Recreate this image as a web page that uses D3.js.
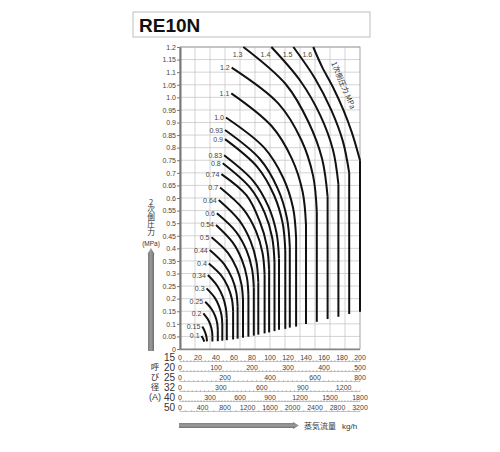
<!DOCTYPE html>
<html>
<head>
<meta charset="utf-8">
<script src="https://cdn.jsdelivr.net/npm/d3@7"></script>
<style>
  body { margin: 0; background: #fff; }
  svg { display: block; font-family: "Liberation Sans", Arial, sans-serif; }
  .grid line { stroke: #c2c2c2; stroke-width: 0.7; }
  .y-axis text { font-size: 7px; fill: #444; }
  .y-axis line { stroke: #777; }
  .ruler text { font-size: 7px; fill: #444; }
  .curve { fill: none; stroke: #111; stroke-width: 2; }
  .curve-label { font-size: 7px; fill: #444; text-anchor: end; }
  .jp { font-family: "Noto Sans CJK JP", sans-serif; }
</style>
</head>
<body>
<svg id="chart" width="500" height="452"></svg>
<script>
// secondary pressure axis (MPa)
const pressureTicks = [0, 0.05, 0.1, 0.15, 0.2, 0.25, 0.3, 0.35, 0.4, 0.45, 0.5, 0.55, 0.6,
  0.65, 0.7, 0.75, 0.8, 0.85, 0.9, 0.95, 1.0, 1.05, 1.1, 1.15, 1.2];
const pressureLabels = ["0", "0.05", "0.1", "0.15", "0.2", "0.25", "0.3", "0.35", "0.4", "0.45",
  "0.5", "0.55", "0.6", "0.65", "0.7", "0.75", "0.8", "0.85", "0.9", "0.95", "1.0", "1.05",
  "1.1", "1.15", "1.2"];

// nominal sizes and their flow scales (kg/h)
const sizeNames = ["15", "20", "25", "32", "40", "50"];
const sizeMax = [200, 500, 800, 1320, 1800, 3200];
const sizeTicks = [
  [0, 20, 40, 60, 80, 100, 120, 140, 160, 180, 200],
  [0, 100, 200, 300, 400, 500],
  [0, 200, 400, 600, 800],
  [0, 300, 600, 900, 1200],
  [0, 300, 600, 900, 1200, 1500, 1800],
  [0, 400, 800, 1200, 1600, 2000, 2400, 2800, 3200]
];
const sizeMinor = [4, 10, 20, 30, 30, 100];

// primary pressure curves: [flow (size 15 scale), secondary pressure]
const curveLabels = ["0.1", "0.15", "0.2", "0.25", "0.3", "0.34", "0.4", "0.44", "0.5", "0.54",
  "0.6", "0.64", "0.7", "0.74", "0.8", "0.83", "0.9", "0.93", "1.0", "1.1", "1.2", "1.3", "1.4", "1.5", "1.6"];
const curveArcs = [
  [[24, 0.052], [25.5, 0.042], [27, 0.029]],
  [[24.8, 0.089], [27.5, 0.07], [29.3, 0.05], [30, 0.03]],
  [[26, 0.142], [30.8, 0.119], [33.8, 0.096], [35.5, 0.073], [36, 0.05]],
  [[28, 0.188], [34.8, 0.16], [39, 0.1315], [41.3, 0.103], [42, 0.075]],
  [[29.5, 0.241], [38.2, 0.206], [43.3, 0.1705], [46.1, 0.135], [47, 0.10]],
  [[31, 0.294], [41.5, 0.2505], [47.6, 0.207], [50.9, 0.1635], [52, 0.12]],
  [[32, 0.34], [45.8, 0.2925], [53.5, 0.245], [57.7, 0.1975], [59, 0.15]],
  [[33, 0.393], [49, 0.337], [57.8, 0.2815], [62.5, 0.226], [64, 0.17]],
  [[35, 0.444], [53.2, 0.382], [63.1, 0.3195], [68.3, 0.257], [70, 0.195]],
  [[40, 0.493], [58.5, 0.4235], [68.8, 0.354], [74.3, 0.2845], [76, 0.215]],
  [[41, 0.539], [62.3, 0.4655], [73.9, 0.392], [80, 0.3185], [82, 0.245]],
  [[43, 0.592], [66, 0.51], [78.4, 0.4285], [84.9, 0.347], [87, 0.265]],
  [[44.5, 0.642], [70.6, 0.555], [84.4, 0.4685], [91.7, 0.382], [94, 0.295]],
  [[46, 0.695], [74, 0.61], [88.8, 0.505], [96.5, 0.41], [99, 0.315]],
  [[47.5, 0.738], [78.1, 0.64], [94, 0.5415], [102.4, 0.443], [105, 0.345]],
  [[49, 0.77], [81.5, 0.6675], [98.4, 0.565], [107.2, 0.4625], [110, 0.36]],
  [[50, 0.834], [86, 0.723], [104.4, 0.612], [114, 0.501], [117, 0.39]],
  [[50, 0.87], [89, 0.754], [108.6, 0.6375], [118.8, 0.521], [122, 0.405]],
  [[51, 0.92], [93.5, 0.80], [114.6, 0.6805], [125.6, 0.561], [129, 0.441]],
  [[57, 1.016], [102, 0.885], [124.5, 0.7545], [136.3, 0.624], [140, 0.493]],
  [[57.4, 1.118], [109.4, 0.975], [134.7, 0.8315], [147.9, 0.688], [152, 0.545]],
  [[70.4, 1.2], [118, 1.05], [143, 0.9], [158, 0.754], [164, 0.605]],
  [[101.5, 1.2], [134, 1.064], [156, 0.9275], [170, 0.791], [176, 0.655]],
  [[126, 1.2], [150, 1.075], [168, 0.95], [181, 0.825], [188, 0.70]],
  [[148, 1.2], [158, 1.12], [170, 1.04], [181.5, 0.95], [191, 0.86], [200, 0.75]]
];
// lower end of each vertical (choked) line
const curveBottoms = [0.029, 0.03, 0.03, 0.031, 0.033, 0.035, 0.038, 0.041, 0.045, 0.049,
  0.053, 0.057, 0.062, 0.066, 0.071, 0.076, 0.08, 0.085, 0.089, 0.099, 0.108, 0.119, 0.128, 0.139, 0.148];

const svg = d3.select("#chart");
const plot = { left: 180, right: 360, top: 47, bottom: 349 };

/* ---------- title box ---------- */
svg.append("rect").attr("x", 133).attr("y", 12).attr("width", 237).attr("height", 25)
  .attr("fill", "#fff").attr("stroke", "#c8c8c8").attr("stroke-width", 1.2);
svg.append("text").attr("x", 139).attr("y", 32)
  .style("font-family", "'Liberation Sans', Arial, sans-serif")
  .style("font-weight", "bold").style("font-size", "19px").style("fill", "#111")
  .text("RE10N");

/* ---------- scales ---------- */
const x = d3.scaleLinear().domain([0, 200]).range([plot.left, plot.right]);
const y = d3.scaleLinear().domain([0, 1.2]).range([plot.bottom, plot.top]);

/* ---------- grid ---------- */
const grid = svg.append("g").attr("class", "grid");
grid.selectAll(".v").data(d3.range(1, 12)).join("line")
  .attr("x1", i => plot.left + i * (plot.right - plot.left) / 12)
  .attr("x2", i => plot.left + i * (plot.right - plot.left) / 12)
  .attr("y1", plot.top).attr("y2", plot.bottom);
grid.selectAll(".h").data(pressureTicks.slice(1)).join("line")
  .attr("x1", plot.left).attr("x2", plot.right)
  .attr("y1", d => y(d)).attr("y2", d => y(d));

svg.append("rect").attr("x", plot.left).attr("y", plot.top)
  .attr("width", plot.right - plot.left).attr("height", plot.bottom - plot.top)
  .attr("fill", "none").attr("stroke", "#999").attr("stroke-width", 0.9);

/* ---------- left axis ---------- */
const yAxis = d3.axisLeft(y).tickValues(pressureTicks)
  .tickFormat((d, i) => pressureLabels[i]).tickSize(3).tickPadding(1).tickSizeOuter(0);
const yg = svg.append("g").attr("class", "y-axis")
  .attr("transform", `translate(${plot.left},0)`).call(yAxis);
yg.select(".domain").attr("stroke", "#777").attr("stroke-width", 2);
svg.append("line").attr("x1", plot.left - 1).attr("x2", plot.right)
  .attr("y1", plot.bottom + 0.5).attr("y2", plot.bottom + 0.5)
  .attr("stroke", "#888").attr("stroke-width", 1.5);

/* ---------- curves ---------- */
const arcLine = d3.line().x(d => x(d[0])).y(d => y(d[1])).curve(d3.curveCatmullRom.alpha(0.5));
const curves = svg.append("g");
curveArcs.forEach((pts, i) => {
  const end = pts[pts.length - 1];
  curves.append("path").attr("class", "curve").attr("d", arcLine(pts));
  if (curveBottoms[i] < end[1]) {
    curves.append("line").attr("class", "curve")
      .attr("x1", x(end[0])).attr("x2", x(end[0]))
      .attr("y1", y(end[1])).attr("y2", y(curveBottoms[i]));
  }
  const start = pts[0];
  const atTop = start[1] >= 1.2;
  curves.append("text").attr("class", "curve-label")
    .attr("x", x(start[0]) - (atTop ? 1 : 2))
    .attr("y", atTop ? plot.top + 10 : y(start[1]) + 2.5)
    .text(curveLabels[i]);
});

svg.append("text").attr("class", "jp")
  .attr("transform", "translate(331,63) rotate(67)")
  .style("font-size", "7.5px").style("fill", "#333")
  .text("1次側圧力 MPa");

/* ---------- size rulers ---------- */
sizeNames.forEach((name, i) => {
  const rowY = 357 + i * 10;
  const sx = d3.scaleLinear().domain([0, sizeMax[i]]).range([plot.left, plot.right]);
  const g = svg.append("g").attr("class", "ruler");
  const lineY = rowY + 4.5;
  g.append("line").attr("x1", plot.left).attr("x2", plot.right)
    .attr("y1", lineY).attr("y2", lineY).attr("stroke", "#999").attr("stroke-width", 0.6);
  g.selectAll(".minor").data(d3.range(0, sizeMax[i] + 0.001, sizeMinor[i])).join("line")
    .attr("x1", d => sx(d)).attr("x2", d => sx(d))
    .attr("y1", lineY - 1.5).attr("y2", lineY).attr("stroke", "#999").attr("stroke-width", 0.6);
  g.selectAll(".lbl").data(sizeTicks[i]).join("text")
    .attr("x", d => sx(d)).attr("y", rowY + 2.5)
    .attr("text-anchor", "middle")
    .text(d => d);
  svg.append("text").attr("x", 175).attr("y", rowY + 3.5).attr("text-anchor", "end")
    .style("font-size", "10px").style("fill", "#333").text(name);
});

// 呼び径(A), written top to bottom
svg.append("text").attr("class", "jp").attr("x", 155).attr("y", 362.5)
  .style("writing-mode", "vertical-rl").style("text-orientation", "upright")
  .style("letter-spacing", "1.5px")
  .style("font-size", "8.5px").style("fill", "#333").text("呼び径");
svg.append("text").attr("x", 155).attr("y", 400).attr("text-anchor", "middle")
  .style("font-size", "9px").style("fill", "#333").text("(A)");

/* ---------- axis titles with arrows ---------- */
const defs = svg.append("defs");
const gv = defs.append("linearGradient").attr("id", "gv").attr("x1", 0).attr("x2", 1).attr("y1", 0).attr("y2", 0);
gv.append("stop").attr("offset", "0%").attr("stop-color", "#777");
gv.append("stop").attr("offset", "50%").attr("stop-color", "#9a9a9a");
gv.append("stop").attr("offset", "100%").attr("stop-color", "#666");
const gh = defs.append("linearGradient").attr("id", "gh").attr("x1", 0).attr("x2", 0).attr("y1", 0).attr("y2", 1);
gh.append("stop").attr("offset", "0%").attr("stop-color", "#777");
gh.append("stop").attr("offset", "50%").attr("stop-color", "#9a9a9a");
gh.append("stop").attr("offset", "100%").attr("stop-color", "#666");

// 2次側圧力, written top to bottom
svg.append("text").attr("class", "jp").attr("x", 151).attr("y", 198)
  .style("writing-mode", "vertical-rl").style("text-orientation", "upright")
  .style("font-size", "7.6px").style("fill", "#333").text("2次側圧力");
svg.append("text").attr("x", 151).attr("y", 246).attr("text-anchor", "middle")
  .style("font-size", "6.5px").style("fill", "#333").text("(MPa)");
svg.append("path").attr("fill", "url(#gv)")
  .attr("d", "M151,248 L154.5,254 L154,254 L154,351 L148,351 L148,254 L147.5,254 Z");

svg.append("path").attr("fill", "url(#gh)")
  .attr("d", "M179,423 L293,423 L293,422 L299,425.5 L293,429 L293,428 L179,428 Z");
svg.append("text").attr("class", "jp").attr("x", 304).attr("y", 429)
  .style("font-size", "8px").style("fill", "#333").text("蒸気流量");
svg.append("text").attr("x", 342).attr("y", 429)
  .style("font-size", "8px").style("fill", "#333").text("kg/h");
</script>
</body>
</html>
